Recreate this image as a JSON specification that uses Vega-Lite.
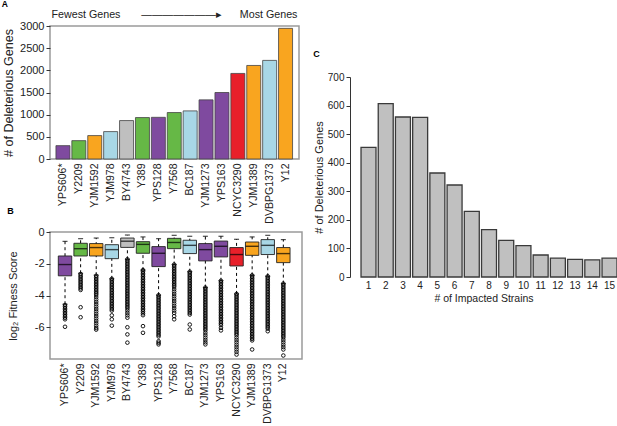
{
  "$schema": "https://vega.github.io/schema/vega-lite/v6.json",
  "background": "white",
  "padding": {"left": 1, "top": 0, "right": 0, "bottom": 0},
  "config": {
    "font": "Liberation Sans",
    "view": {"stroke": null},
    "axis": {
      "labelFont": "Liberation Sans",
      "titleFont": "Liberation Sans",
      "labelColor": "#222",
      "titleColor": "#222",
      "titleFontWeight": "normal",
      "tickColor": "#333",
      "domainColor": "#333",
      "grid": false
    },
    "title": {"fontSize": 9, "fontWeight": "bold", "anchor": "start", "frame": "bounds", "color": "#000"}
  },
  "datasets": {
    "genes": [
      {"strain": "YPS606*", "clade": "clade 1", "genes": 301},
      {"strain": "Y2209", "clade": "clade 2", "genes": 414},
      {"strain": "YJM1592", "clade": "clade 3", "genes": 528},
      {"strain": "YJM978", "clade": "clade 4", "genes": 618},
      {"strain": "BY4743", "clade": "clade 5", "genes": 867},
      {"strain": "Y389", "clade": "clade 2", "genes": 935},
      {"strain": "YPS128", "clade": "clade 1", "genes": 940},
      {"strain": "Y7568", "clade": "clade 2", "genes": 1048},
      {"strain": "BC187", "clade": "clade 4", "genes": 1085},
      {"strain": "YJM1273", "clade": "clade 1", "genes": 1334},
      {"strain": "YPS163", "clade": "clade 1", "genes": 1500},
      {"strain": "NCYC3290", "clade": "clade 6", "genes": 1930},
      {"strain": "YJM1389", "clade": "clade 3", "genes": 2110},
      {"strain": "DVBPG1373", "clade": "clade 4", "genes": 2224},
      {"strain": "Y12", "clade": "clade 3", "genes": 2947}
    ],
    "boxes": [
      {"strain": "YPS606*", "clade": "clade 1", "lower": -4.55, "q1": -2.76, "median": -2.05, "q3": -1.51, "upper": -0.59},
      {"strain": "Y2209", "clade": "clade 2", "lower": -2.6, "q1": -1.51, "median": -1.05, "q3": -0.71, "upper": -0.42},
      {"strain": "YJM1592", "clade": "clade 3", "lower": -2.72, "q1": -1.51, "median": -0.98, "q3": -0.73, "upper": -0.38},
      {"strain": "YJM978", "clade": "clade 4", "lower": -2.95, "q1": -1.68, "median": -1.11, "q3": -0.8, "upper": -0.36},
      {"strain": "BY4743", "clade": "clade 5", "lower": -1.72, "q1": -0.97, "median": -0.58, "q3": -0.38, "upper": -0.19},
      {"strain": "Y389", "clade": "clade 2", "lower": -2.4, "q1": -1.34, "median": -0.78, "q3": -0.61, "upper": -0.31},
      {"strain": "YPS128", "clade": "clade 1", "lower": -3.98, "q1": -2.18, "median": -1.34, "q3": -0.92, "upper": -0.42},
      {"strain": "Y7568", "clade": "clade 2", "lower": -2.05, "q1": -1.05, "median": -0.66, "q3": -0.4, "upper": -0.21},
      {"strain": "BC187", "clade": "clade 4", "lower": -2.5, "q1": -1.36, "median": -0.84, "q3": -0.52, "upper": -0.27},
      {"strain": "YJM1273", "clade": "clade 1", "lower": -3.5, "q1": -1.82, "median": -1.11, "q3": -0.73, "upper": -0.27},
      {"strain": "YPS163", "clade": "clade 1", "lower": -3.07, "q1": -1.57, "median": -0.9, "q3": -0.57, "upper": -0.27},
      {"strain": "NCYC3290", "clade": "clade 6", "lower": -3.9, "q1": -2.14, "median": -1.42, "q3": -0.98, "upper": -0.46},
      {"strain": "YJM1389", "clade": "clade 3", "lower": -2.73, "q1": -1.47, "median": -0.9, "q3": -0.63, "upper": -0.31},
      {"strain": "DVBPG1373", "clade": "clade 4", "lower": -2.79, "q1": -1.42, "median": -0.84, "q3": -0.48, "upper": -0.21},
      {"strain": "Y12", "clade": "clade 3", "lower": -3.25, "q1": -1.93, "median": -1.36, "q3": -0.98, "upper": -0.48}
    ],
    "outliers": [
      {"strain": "YPS606*", "score": -4.6}, {"strain": "YPS606*", "score": -4.7}, {"strain": "YPS606*", "score": -4.8}, {"strain": "YPS606*", "score": -4.9}, {"strain": "YPS606*", "score": -5.0}, {"strain": "YPS606*", "score": -5.1}, {"strain": "YPS606*", "score": -5.2}, {"strain": "YPS606*", "score": -5.3}, {"strain": "YPS606*", "score": -5.4}, {"strain": "YPS606*", "score": -5.5}, {"strain": "YPS606*", "score": -5.97},
      {"strain": "Y2209", "score": -2.65}, {"strain": "Y2209", "score": -2.75}, {"strain": "Y2209", "score": -2.85}, {"strain": "Y2209", "score": -2.95}, {"strain": "Y2209", "score": -3.05}, {"strain": "Y2209", "score": -3.15}, {"strain": "Y2209", "score": -3.25}, {"strain": "Y2209", "score": -3.35}, {"strain": "Y2209", "score": -3.45}, {"strain": "Y2209", "score": -3.55}, {"strain": "Y2209", "score": -3.65}, {"strain": "Y2209", "score": -4.74}, {"strain": "Y2209", "score": -5.37},
      {"strain": "YJM1592", "score": -2.76}, {"strain": "YJM1592", "score": -2.86}, {"strain": "YJM1592", "score": -2.96}, {"strain": "YJM1592", "score": -3.06}, {"strain": "YJM1592", "score": -3.16}, {"strain": "YJM1592", "score": -3.26}, {"strain": "YJM1592", "score": -3.36}, {"strain": "YJM1592", "score": -3.46}, {"strain": "YJM1592", "score": -3.56}, {"strain": "YJM1592", "score": -3.66}, {"strain": "YJM1592", "score": -3.76}, {"strain": "YJM1592", "score": -3.86}, {"strain": "YJM1592", "score": -3.96}, {"strain": "YJM1592", "score": -4.1}, {"strain": "YJM1592", "score": -4.25}, {"strain": "YJM1592", "score": -4.4}, {"strain": "YJM1592", "score": -4.55}, {"strain": "YJM1592", "score": -4.7}, {"strain": "YJM1592", "score": -4.85}, {"strain": "YJM1592", "score": -5.0}, {"strain": "YJM1592", "score": -5.15}, {"strain": "YJM1592", "score": -5.3}, {"strain": "YJM1592", "score": -5.45}, {"strain": "YJM1592", "score": -5.6}, {"strain": "YJM1592", "score": -5.75}, {"strain": "YJM1592", "score": -5.9}, {"strain": "YJM1592", "score": -6.05}, {"strain": "YJM1592", "score": -6.15},
      {"strain": "YJM978", "score": -2.95}, {"strain": "YJM978", "score": -3.05}, {"strain": "YJM978", "score": -3.15}, {"strain": "YJM978", "score": -3.25}, {"strain": "YJM978", "score": -3.35}, {"strain": "YJM978", "score": -3.45}, {"strain": "YJM978", "score": -3.55}, {"strain": "YJM978", "score": -3.65}, {"strain": "YJM978", "score": -3.75}, {"strain": "YJM978", "score": -3.85}, {"strain": "YJM978", "score": -3.95}, {"strain": "YJM978", "score": -4.05}, {"strain": "YJM978", "score": -4.15}, {"strain": "YJM978", "score": -4.25}, {"strain": "YJM978", "score": -4.35}, {"strain": "YJM978", "score": -4.45}, {"strain": "YJM978", "score": -4.55}, {"strain": "YJM978", "score": -4.65}, {"strain": "YJM978", "score": -4.75}, {"strain": "YJM978", "score": -4.85}, {"strain": "YJM978", "score": -4.95}, {"strain": "YJM978", "score": -5.25}, {"strain": "YJM978", "score": -5.5}, {"strain": "YJM978", "score": -5.9},
      {"strain": "BY4743", "score": -1.72}, {"strain": "BY4743", "score": -1.82}, {"strain": "BY4743", "score": -1.92}, {"strain": "BY4743", "score": -2.02}, {"strain": "BY4743", "score": -2.12}, {"strain": "BY4743", "score": -2.22}, {"strain": "BY4743", "score": -2.32}, {"strain": "BY4743", "score": -2.42}, {"strain": "BY4743", "score": -2.52}, {"strain": "BY4743", "score": -2.62}, {"strain": "BY4743", "score": -2.72}, {"strain": "BY4743", "score": -2.82}, {"strain": "BY4743", "score": -2.92}, {"strain": "BY4743", "score": -3.02}, {"strain": "BY4743", "score": -3.12}, {"strain": "BY4743", "score": -3.22}, {"strain": "BY4743", "score": -3.32}, {"strain": "BY4743", "score": -3.42}, {"strain": "BY4743", "score": -3.52}, {"strain": "BY4743", "score": -3.62}, {"strain": "BY4743", "score": -3.72}, {"strain": "BY4743", "score": -3.82}, {"strain": "BY4743", "score": -3.92}, {"strain": "BY4743", "score": -4.02}, {"strain": "BY4743", "score": -4.12}, {"strain": "BY4743", "score": -4.22}, {"strain": "BY4743", "score": -4.32}, {"strain": "BY4743", "score": -4.42}, {"strain": "BY4743", "score": -4.52}, {"strain": "BY4743", "score": -4.62}, {"strain": "BY4743", "score": -4.72}, {"strain": "BY4743", "score": -4.82}, {"strain": "BY4743", "score": -4.95}, {"strain": "BY4743", "score": -5.1}, {"strain": "BY4743", "score": -5.25}, {"strain": "BY4743", "score": -5.4}, {"strain": "BY4743", "score": -6.0}, {"strain": "BY4743", "score": -6.45}, {"strain": "BY4743", "score": -6.97},
      {"strain": "Y389", "score": -2.4}, {"strain": "Y389", "score": -2.5}, {"strain": "Y389", "score": -2.6}, {"strain": "Y389", "score": -2.7}, {"strain": "Y389", "score": -2.8}, {"strain": "Y389", "score": -2.9}, {"strain": "Y389", "score": -3.0}, {"strain": "Y389", "score": -3.1}, {"strain": "Y389", "score": -3.2}, {"strain": "Y389", "score": -3.3}, {"strain": "Y389", "score": -3.4}, {"strain": "Y389", "score": -3.5}, {"strain": "Y389", "score": -3.6}, {"strain": "Y389", "score": -3.7}, {"strain": "Y389", "score": -3.8}, {"strain": "Y389", "score": -3.9}, {"strain": "Y389", "score": -4.0}, {"strain": "Y389", "score": -4.1}, {"strain": "Y389", "score": -4.2}, {"strain": "Y389", "score": -4.3}, {"strain": "Y389", "score": -4.4}, {"strain": "Y389", "score": -4.5}, {"strain": "Y389", "score": -4.6}, {"strain": "Y389", "score": -4.7}, {"strain": "Y389", "score": -4.8}, {"strain": "Y389", "score": -4.9}, {"strain": "Y389", "score": -5.0}, {"strain": "Y389", "score": -5.12}, {"strain": "Y389", "score": -5.24}, {"strain": "Y389", "score": -5.93}, {"strain": "Y389", "score": -6.35},
      {"strain": "YPS128", "score": -3.98}, {"strain": "YPS128", "score": -4.08}, {"strain": "YPS128", "score": -4.18}, {"strain": "YPS128", "score": -4.28}, {"strain": "YPS128", "score": -4.38}, {"strain": "YPS128", "score": -4.48}, {"strain": "YPS128", "score": -4.58}, {"strain": "YPS128", "score": -4.68}, {"strain": "YPS128", "score": -4.78}, {"strain": "YPS128", "score": -4.88}, {"strain": "YPS128", "score": -4.98}, {"strain": "YPS128", "score": -5.08}, {"strain": "YPS128", "score": -5.18}, {"strain": "YPS128", "score": -5.28}, {"strain": "YPS128", "score": -5.38}, {"strain": "YPS128", "score": -5.48}, {"strain": "YPS128", "score": -5.58}, {"strain": "YPS128", "score": -5.68}, {"strain": "YPS128", "score": -5.78}, {"strain": "YPS128", "score": -5.88}, {"strain": "YPS128", "score": -5.98}, {"strain": "YPS128", "score": -6.08}, {"strain": "YPS128", "score": -6.18}, {"strain": "YPS128", "score": -6.28}, {"strain": "YPS128", "score": -6.38}, {"strain": "YPS128", "score": -6.48}, {"strain": "YPS128", "score": -6.58}, {"strain": "YPS128", "score": -6.88}, {"strain": "YPS128", "score": -6.98}, {"strain": "YPS128", "score": -7.08},
      {"strain": "Y7568", "score": -2.05}, {"strain": "Y7568", "score": -2.15}, {"strain": "Y7568", "score": -2.25}, {"strain": "Y7568", "score": -2.35}, {"strain": "Y7568", "score": -2.45}, {"strain": "Y7568", "score": -2.55}, {"strain": "Y7568", "score": -2.65}, {"strain": "Y7568", "score": -2.75}, {"strain": "Y7568", "score": -2.85}, {"strain": "Y7568", "score": -2.95}, {"strain": "Y7568", "score": -3.05}, {"strain": "Y7568", "score": -3.15}, {"strain": "Y7568", "score": -3.25}, {"strain": "Y7568", "score": -3.35}, {"strain": "Y7568", "score": -3.45}, {"strain": "Y7568", "score": -3.6}, {"strain": "Y7568", "score": -3.75}, {"strain": "Y7568", "score": -3.9}, {"strain": "Y7568", "score": -4.05}, {"strain": "Y7568", "score": -4.2}, {"strain": "Y7568", "score": -4.35}, {"strain": "Y7568", "score": -4.5}, {"strain": "Y7568", "score": -4.65}, {"strain": "Y7568", "score": -4.8}, {"strain": "Y7568", "score": -4.95}, {"strain": "Y7568", "score": -5.1}, {"strain": "Y7568", "score": -5.3}, {"strain": "Y7568", "score": -5.5},
      {"strain": "BC187", "score": -2.5}, {"strain": "BC187", "score": -2.6}, {"strain": "BC187", "score": -2.7}, {"strain": "BC187", "score": -2.8}, {"strain": "BC187", "score": -2.9}, {"strain": "BC187", "score": -3.0}, {"strain": "BC187", "score": -3.1}, {"strain": "BC187", "score": -3.2}, {"strain": "BC187", "score": -3.3}, {"strain": "BC187", "score": -3.4}, {"strain": "BC187", "score": -3.5}, {"strain": "BC187", "score": -3.6}, {"strain": "BC187", "score": -3.7}, {"strain": "BC187", "score": -3.8}, {"strain": "BC187", "score": -3.9}, {"strain": "BC187", "score": -4.0}, {"strain": "BC187", "score": -4.1}, {"strain": "BC187", "score": -4.2}, {"strain": "BC187", "score": -4.3}, {"strain": "BC187", "score": -4.4}, {"strain": "BC187", "score": -4.5}, {"strain": "BC187", "score": -4.6}, {"strain": "BC187", "score": -4.7}, {"strain": "BC187", "score": -4.8}, {"strain": "BC187", "score": -4.9}, {"strain": "BC187", "score": -5.0}, {"strain": "BC187", "score": -5.1}, {"strain": "BC187", "score": -5.2}, {"strain": "BC187", "score": -5.83}, {"strain": "BC187", "score": -6.14},
      {"strain": "YJM1273", "score": -3.5}, {"strain": "YJM1273", "score": -3.6}, {"strain": "YJM1273", "score": -3.7}, {"strain": "YJM1273", "score": -3.8}, {"strain": "YJM1273", "score": -3.9}, {"strain": "YJM1273", "score": -4.0}, {"strain": "YJM1273", "score": -4.1}, {"strain": "YJM1273", "score": -4.2}, {"strain": "YJM1273", "score": -4.3}, {"strain": "YJM1273", "score": -4.4}, {"strain": "YJM1273", "score": -4.5}, {"strain": "YJM1273", "score": -4.6}, {"strain": "YJM1273", "score": -4.7}, {"strain": "YJM1273", "score": -4.8}, {"strain": "YJM1273", "score": -4.9}, {"strain": "YJM1273", "score": -5.0}, {"strain": "YJM1273", "score": -5.1}, {"strain": "YJM1273", "score": -5.2}, {"strain": "YJM1273", "score": -5.3}, {"strain": "YJM1273", "score": -5.4}, {"strain": "YJM1273", "score": -5.5}, {"strain": "YJM1273", "score": -5.6}, {"strain": "YJM1273", "score": -5.7}, {"strain": "YJM1273", "score": -5.8}, {"strain": "YJM1273", "score": -5.9}, {"strain": "YJM1273", "score": -6.0}, {"strain": "YJM1273", "score": -6.1}, {"strain": "YJM1273", "score": -6.2}, {"strain": "YJM1273", "score": -6.35}, {"strain": "YJM1273", "score": -6.5}, {"strain": "YJM1273", "score": -6.65}, {"strain": "YJM1273", "score": -6.8}, {"strain": "YJM1273", "score": -6.95}, {"strain": "YJM1273", "score": -7.08},
      {"strain": "YPS163", "score": -3.07}, {"strain": "YPS163", "score": -3.17}, {"strain": "YPS163", "score": -3.27}, {"strain": "YPS163", "score": -3.37}, {"strain": "YPS163", "score": -3.47}, {"strain": "YPS163", "score": -3.57}, {"strain": "YPS163", "score": -3.67}, {"strain": "YPS163", "score": -3.77}, {"strain": "YPS163", "score": -3.87}, {"strain": "YPS163", "score": -3.97}, {"strain": "YPS163", "score": -4.07}, {"strain": "YPS163", "score": -4.17}, {"strain": "YPS163", "score": -4.27}, {"strain": "YPS163", "score": -4.37}, {"strain": "YPS163", "score": -4.47}, {"strain": "YPS163", "score": -4.57}, {"strain": "YPS163", "score": -4.67}, {"strain": "YPS163", "score": -4.77}, {"strain": "YPS163", "score": -4.87}, {"strain": "YPS163", "score": -4.97}, {"strain": "YPS163", "score": -5.07}, {"strain": "YPS163", "score": -5.17}, {"strain": "YPS163", "score": -5.27}, {"strain": "YPS163", "score": -5.37}, {"strain": "YPS163", "score": -5.47}, {"strain": "YPS163", "score": -5.57}, {"strain": "YPS163", "score": -5.67}, {"strain": "YPS163", "score": -5.77}, {"strain": "YPS163", "score": -5.87}, {"strain": "YPS163", "score": -6.04}, {"strain": "YPS163", "score": -6.2},
      {"strain": "NCYC3290", "score": -3.9}, {"strain": "NCYC3290", "score": -4.0}, {"strain": "NCYC3290", "score": -4.1}, {"strain": "NCYC3290", "score": -4.2}, {"strain": "NCYC3290", "score": -4.3}, {"strain": "NCYC3290", "score": -4.4}, {"strain": "NCYC3290", "score": -4.5}, {"strain": "NCYC3290", "score": -4.6}, {"strain": "NCYC3290", "score": -4.7}, {"strain": "NCYC3290", "score": -4.8}, {"strain": "NCYC3290", "score": -4.9}, {"strain": "NCYC3290", "score": -5.0}, {"strain": "NCYC3290", "score": -5.1}, {"strain": "NCYC3290", "score": -5.2}, {"strain": "NCYC3290", "score": -5.3}, {"strain": "NCYC3290", "score": -5.4}, {"strain": "NCYC3290", "score": -5.5}, {"strain": "NCYC3290", "score": -5.6}, {"strain": "NCYC3290", "score": -5.7}, {"strain": "NCYC3290", "score": -5.8}, {"strain": "NCYC3290", "score": -5.9}, {"strain": "NCYC3290", "score": -6.0}, {"strain": "NCYC3290", "score": -6.1}, {"strain": "NCYC3290", "score": -6.2}, {"strain": "NCYC3290", "score": -6.3}, {"strain": "NCYC3290", "score": -6.4}, {"strain": "NCYC3290", "score": -6.5}, {"strain": "NCYC3290", "score": -6.65}, {"strain": "NCYC3290", "score": -6.8}, {"strain": "NCYC3290", "score": -6.95}, {"strain": "NCYC3290", "score": -7.1}, {"strain": "NCYC3290", "score": -7.25}, {"strain": "NCYC3290", "score": -7.4}, {"strain": "NCYC3290", "score": -7.55}, {"strain": "NCYC3290", "score": -7.72},
      {"strain": "YJM1389", "score": -2.73}, {"strain": "YJM1389", "score": -2.83}, {"strain": "YJM1389", "score": -2.93}, {"strain": "YJM1389", "score": -3.03}, {"strain": "YJM1389", "score": -3.13}, {"strain": "YJM1389", "score": -3.23}, {"strain": "YJM1389", "score": -3.33}, {"strain": "YJM1389", "score": -3.43}, {"strain": "YJM1389", "score": -3.53}, {"strain": "YJM1389", "score": -3.63}, {"strain": "YJM1389", "score": -3.73}, {"strain": "YJM1389", "score": -3.83}, {"strain": "YJM1389", "score": -3.93}, {"strain": "YJM1389", "score": -4.03}, {"strain": "YJM1389", "score": -4.13}, {"strain": "YJM1389", "score": -4.23}, {"strain": "YJM1389", "score": -4.33}, {"strain": "YJM1389", "score": -4.43}, {"strain": "YJM1389", "score": -4.53}, {"strain": "YJM1389", "score": -4.63}, {"strain": "YJM1389", "score": -4.73}, {"strain": "YJM1389", "score": -4.83}, {"strain": "YJM1389", "score": -4.93}, {"strain": "YJM1389", "score": -5.03}, {"strain": "YJM1389", "score": -5.13}, {"strain": "YJM1389", "score": -5.23}, {"strain": "YJM1389", "score": -5.33}, {"strain": "YJM1389", "score": -5.43}, {"strain": "YJM1389", "score": -5.53}, {"strain": "YJM1389", "score": -5.63}, {"strain": "YJM1389", "score": -5.73}, {"strain": "YJM1389", "score": -5.83}, {"strain": "YJM1389", "score": -5.93}, {"strain": "YJM1389", "score": -6.03}, {"strain": "YJM1389", "score": -6.13}, {"strain": "YJM1389", "score": -6.23}, {"strain": "YJM1389", "score": -6.33}, {"strain": "YJM1389", "score": -6.43}, {"strain": "YJM1389", "score": -6.53}, {"strain": "YJM1389", "score": -6.63}, {"strain": "YJM1389", "score": -6.73}, {"strain": "YJM1389", "score": -6.83}, {"strain": "YJM1389", "score": -7.4},
      {"strain": "DVBPG1373", "score": -2.79}, {"strain": "DVBPG1373", "score": -2.89}, {"strain": "DVBPG1373", "score": -2.99}, {"strain": "DVBPG1373", "score": -3.09}, {"strain": "DVBPG1373", "score": -3.19}, {"strain": "DVBPG1373", "score": -3.29}, {"strain": "DVBPG1373", "score": -3.39}, {"strain": "DVBPG1373", "score": -3.49}, {"strain": "DVBPG1373", "score": -3.59}, {"strain": "DVBPG1373", "score": -3.69}, {"strain": "DVBPG1373", "score": -3.79}, {"strain": "DVBPG1373", "score": -3.89}, {"strain": "DVBPG1373", "score": -3.99}, {"strain": "DVBPG1373", "score": -4.09}, {"strain": "DVBPG1373", "score": -4.19}, {"strain": "DVBPG1373", "score": -4.29}, {"strain": "DVBPG1373", "score": -4.39}, {"strain": "DVBPG1373", "score": -4.49}, {"strain": "DVBPG1373", "score": -4.59}, {"strain": "DVBPG1373", "score": -4.69}, {"strain": "DVBPG1373", "score": -4.79}, {"strain": "DVBPG1373", "score": -4.89}, {"strain": "DVBPG1373", "score": -4.99}, {"strain": "DVBPG1373", "score": -5.09}, {"strain": "DVBPG1373", "score": -5.19}, {"strain": "DVBPG1373", "score": -5.29}, {"strain": "DVBPG1373", "score": -5.39}, {"strain": "DVBPG1373", "score": -5.49}, {"strain": "DVBPG1373", "score": -5.59}, {"strain": "DVBPG1373", "score": -5.69}, {"strain": "DVBPG1373", "score": -5.79}, {"strain": "DVBPG1373", "score": -5.89}, {"strain": "DVBPG1373", "score": -5.99}, {"strain": "DVBPG1373", "score": -6.09}, {"strain": "DVBPG1373", "score": -6.25},
      {"strain": "Y12", "score": -3.25}, {"strain": "Y12", "score": -3.35}, {"strain": "Y12", "score": -3.45}, {"strain": "Y12", "score": -3.55}, {"strain": "Y12", "score": -3.65}, {"strain": "Y12", "score": -3.75}, {"strain": "Y12", "score": -3.85}, {"strain": "Y12", "score": -3.95}, {"strain": "Y12", "score": -4.05}, {"strain": "Y12", "score": -4.15}, {"strain": "Y12", "score": -4.25}, {"strain": "Y12", "score": -4.35}, {"strain": "Y12", "score": -4.45}, {"strain": "Y12", "score": -4.55}, {"strain": "Y12", "score": -4.65}, {"strain": "Y12", "score": -4.75}, {"strain": "Y12", "score": -4.85}, {"strain": "Y12", "score": -4.95}, {"strain": "Y12", "score": -5.05}, {"strain": "Y12", "score": -5.15}, {"strain": "Y12", "score": -5.25}, {"strain": "Y12", "score": -5.35}, {"strain": "Y12", "score": -5.45}, {"strain": "Y12", "score": -5.55}, {"strain": "Y12", "score": -5.65}, {"strain": "Y12", "score": -5.75}, {"strain": "Y12", "score": -5.85}, {"strain": "Y12", "score": -5.95}, {"strain": "Y12", "score": -6.05}, {"strain": "Y12", "score": -6.15}, {"strain": "Y12", "score": -6.25}, {"strain": "Y12", "score": -6.35}, {"strain": "Y12", "score": -6.45}, {"strain": "Y12", "score": -6.55}, {"strain": "Y12", "score": -6.65}, {"strain": "Y12", "score": -6.8}, {"strain": "Y12", "score": -6.95}, {"strain": "Y12", "score": -7.1}, {"strain": "Y12", "score": -7.25}, {"strain": "Y12", "score": -7.4}, {"strain": "Y12", "score": -7.78}
    ],
    "impacted": [
      {"strains": 1, "genes": 454}, {"strains": 2, "genes": 607}, {"strains": 3, "genes": 560},
      {"strains": 4, "genes": 559}, {"strains": 5, "genes": 364}, {"strains": 6, "genes": 322},
      {"strains": 7, "genes": 230}, {"strains": 8, "genes": 166}, {"strains": 9, "genes": 128},
      {"strains": 10, "genes": 110}, {"strains": 11, "genes": 77}, {"strains": 12, "genes": 66},
      {"strains": 13, "genes": 62}, {"strains": 14, "genes": 60}, {"strains": 15, "genes": 66}
    ]
  },
  "spacing": 10,
  "hconcat": [
    {
      "title": {"text": "A", "offset": 0, "fontSize": 8.5},
      "spacing": -18,
      "vconcat": [
        {
          "width": 249,
          "height": 133,
          "title": {"text": "Fewest Genes\u00a0\u00a0\u00a0\u00a0\u00a0\u00a0\u00a0———————▸\u00a0\u00a0\u00a0\u00a0\u00a0\u00a0Most Genes", "anchor": "middle", "frame": "group", "fontSize": 10.7, "fontWeight": "normal", "color": "#222", "offset": -1},
          "data": {"name": "genes"},
          "view": {"stroke": "#9a9a9a", "strokeWidth": 1.5},
          "mark": {"type": "bar", "stroke": "#444", "strokeWidth": 0.8},
          "encoding": {
            "x": {
              "field": "strain", "type": "nominal",
              "scale": {
                "domain": ["YPS606*", "Y2209", "YJM1592", "YJM978", "BY4743", "Y389", "YPS128", "Y7568", "BC187", "YJM1273", "YPS163", "NCYC3290", "YJM1389", "DVBPG1373", "Y12"],
                "paddingInner": 0.12, "paddingOuter": 0.39, "align": 0.48
              },
              "axis": {"title": null, "labelAngle": -90, "ticks": false, "domain": false, "labelFontSize": 10.5, "labelPadding": 4}
            },
            "y": {
              "field": "genes", "type": "quantitative",
              "scale": {"domain": [0, 3000]},
              "axis": {"title": "# of Deleterious Genes", "values": [0, 500, 1000, 1500, 2000, 2500, 3000], "format": "d", "tickSize": 4, "labelFontSize": 11, "titleFontSize": 12.5, "domain": false, "titlePadding": 4}
            },
            "color": {
              "field": "clade", "type": "nominal", "legend": null,
              "scale": {"domain": ["clade 1", "clade 2", "clade 3", "clade 4", "clade 5", "clade 6"], "range": ["#7f4a9f", "#66b846", "#f9a51f", "#a8d7e6", "#bfbfbf", "#e8202a"]}
            }
          }
        },
        {
          "width": 252,
          "height": 127,
          "title": {"text": "B", "offset": 10},
          "view": {"stroke": "#9a9a9a", "strokeWidth": 1.5},
          "data": {"name": "boxes"},
          "encoding": {
            "x": {
              "field": "strain", "type": "nominal",
              "scale": {
                "domain": ["YPS606*", "Y2209", "YJM1592", "YJM978", "BY4743", "Y389", "YPS128", "Y7568", "BC187", "YJM1273", "YPS163", "NCYC3290", "YJM1389", "DVBPG1373", "Y12"],
                "paddingInner": 0.14, "paddingOuter": 0.65, "align": 0.41
              },
              "axis": {"title": null, "labelAngle": -90, "ticks": false, "domain": false, "labelFontSize": 10.5, "labelPadding": 4}
            }
          },
          "layer": [
            {
              "data": {"name": "outliers"},
              "mark": {"type": "point", "shape": "circle", "filled": false, "color": "#000", "size": 13, "strokeWidth": 0.9, "opacity": 1},
              "encoding": {
                "y": {
                  "field": "score", "type": "quantitative",
                  "scale": {"domain": [-8, 0], "nice": false, "zero": false},
                  "axis": {"title": "log₂ Fitness Score", "values": [0, -2, -4, -6], "labelExpr": "toString(datum.value)", "tickSize": 4, "labelFontSize": 11, "titleFontSize": 11, "domain": false, "titlePadding": 16}
                }
              }
            },
            {
              "mark": {"type": "rule", "color": "#000", "strokeWidth": 1, "strokeDash": [3, 3]},
              "encoding": {
                "y": {"field": "lower", "type": "quantitative"},
                "y2": {"field": "upper"}
              }
            },
            {
              "mark": {"type": "tick", "color": "#000", "size": 5, "thickness": 1.2},
              "encoding": {"y": {"field": "upper", "type": "quantitative"}}
            },
            {
              "mark": {"type": "tick", "color": "#000", "size": 5, "thickness": 1.2},
              "encoding": {"y": {"field": "lower", "type": "quantitative"}}
            },
            {
              "mark": {"type": "bar", "stroke": "#222", "strokeWidth": 0.9},
              "encoding": {
                "y": {"field": "q1", "type": "quantitative"},
                "y2": {"field": "q3"},
                "color": {
                  "field": "clade", "type": "nominal", "legend": null,
                  "scale": {"domain": ["clade 1", "clade 2", "clade 3", "clade 4", "clade 5", "clade 6"], "range": ["#7f4a9f", "#66b846", "#f9a51f", "#a8d7e6", "#bfbfbf", "#e8202a"]}
                }
              }
            },
            {
              "mark": {"type": "tick", "color": "#000", "thickness": 1.4, "size": 13},
              "encoding": {"y": {"field": "median", "type": "quantitative"}}
            }
          ]
        }
      ]
    },
    {
      "spacing": 0,
      "vconcat": [
        {
          "width": 267,
          "height": 24,
          "data": {"values": []},
          "mark": "point",
          "encoding": {}
        },
        {
          "width": 267,
          "height": 200,
          "title": {"text": "C", "offset": 13},
          "data": {"name": "impacted"},
          "mark": {"type": "bar", "fill": "#c0c0c0", "stroke": "#3a3a3a", "strokeWidth": 1.3},
          "encoding": {
            "x": {
              "field": "strains", "type": "ordinal",
              "scale": {"paddingInner": 0.13, "paddingOuter": 0.32, "align": 1},
              "axis": {"title": "# of Impacted Strains", "labelAngle": 0, "ticks": false, "domain": false, "labelFontSize": 10, "titleFontSize": 10.5, "labelPadding": 3, "titlePadding": 3}
            },
            "y": {
              "field": "genes", "type": "quantitative",
              "scale": {"domain": [0, 700]},
              "axis": {"title": "# of Deleterious Genes", "values": [0, 100, 200, 300, 400, 500, 600, 700], "tickSize": 4, "labelFontSize": 10, "titleFontSize": 11, "domain": true, "titlePadding": 3}
            }
          }
        }
      ]
    }
  ]
}
